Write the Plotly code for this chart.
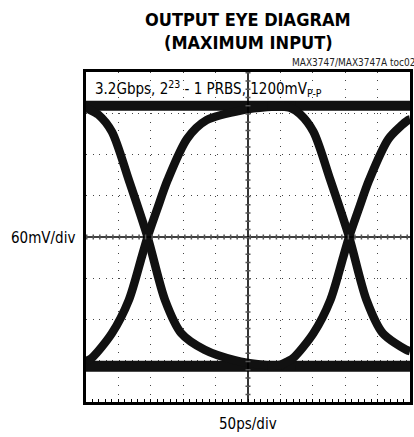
import plotly.graph_objects as go

# scope settings: 50 ps/div horizontally, 60 mV/div vertically
time_range_ps = [0, 500]
volt_range_mv = [-240, 240]

# one/zero rails of the eye
rail_t = [0, 500]
rail_high_mv = [191, 191]
rail_low_mv = [-188, -188]

# transitions (time in ps, level in mV)
fall_1_t = [0, 4, 19, 40, 66, 95, 122, 147, 183, 229, 275, 324]
fall_1_mv = [188, 186, 178, 153, 83, 0, -92, -140, -164, -179, -186, -188]

rise_1_t = [0, 10, 40, 66, 86, 95, 110, 126, 156, 186, 244, 279, 324]
rise_1_mv = [-181, -175, -140, -92, -29, 0, 41, 83, 143, 170, 185, 189, 191]

fall_2_t = [280, 299, 315, 330, 351, 377, 406, 433, 458, 494, 500]
fall_2_mv = [191, 190, 188, 179, 153, 83, 0, -92, -140, -164, -166]

rise_2_t = [280, 300, 311, 321, 351, 377, 397, 406, 421, 437, 467, 497, 500]
rise_2_mv = [-188, -186, -181, -175, -140, -92, -29, 0, 41, 83, 143, 170, 171]

NARROW = "DejaVu Sans Condensed, Liberation Sans Narrow, sans-serif"
INK = "#111111"

fig = go.Figure()

for t, v, w in [
    (rail_t, rail_high_mv, 10),
    (rail_t, rail_low_mv, 11),
]:
    fig.add_trace(go.Scatter(x=t, y=v, mode="lines",
                             line=dict(color=INK, width=w), hoverinfo="skip"))

for t, v in [
    (fall_1_t, fall_1_mv),
    (rise_1_t, rise_1_mv),
    (fall_2_t, fall_2_mv),
    (rise_2_t, rise_2_mv),
]:
    fig.add_trace(go.Scatter(x=t, y=v, mode="lines",
                             line=dict(color=INK, width=8.5, shape="spline", smoothing=0.8),
                             hoverinfo="skip"))

# centre cross-hair with minor ticks
fig.add_shape(type="line", x0=0, x1=500, y0=0, y1=0, line=dict(color="black", width=1.6))
fig.add_shape(type="line", x0=250, x1=250, y0=-240, y1=240, line=dict(color="black", width=1.6))
fig.add_shape(type="line", x0=0, x1=500, y0=0, y1=0,
              line=dict(color="#555555", width=5, dash="1.5px,5.04px"))
fig.add_shape(type="line", x0=250, x1=250, y0=240, y1=-240,
              line=dict(color="#555555", width=5, dash="1.5px,6.75px"))

fig.update_xaxes(
    range=time_range_ps, dtick=50, showgrid=True, gridcolor="#444444", gridwidth=1,
    griddash="1px,7.25px", zeroline=False, showticklabels=False,
    ticks="inside", ticklen=3, tickcolor="black",
    minor=dict(dtick=10, ticks="inside", ticklen=3, tickcolor="black", showgrid=False),
    showline=True, linecolor="black", linewidth=2.5, mirror=True,
)
fig.update_yaxes(
    range=volt_range_mv, dtick=60, showgrid=True, gridcolor="#444444", gridwidth=1,
    griddash="1px,5.54px", zeroline=False, showticklabels=False,
    showline=True, linecolor="black", linewidth=2.5, mirror=True,
)

fig.add_annotation(text="<b>OUTPUT EYE DIAGRAM</b>", xref="paper", yref="paper",
                   x=0.5015, y=1.1576, xanchor="center", yanchor="middle", showarrow=False,
                   font=dict(family=NARROW, size=18, color="black"))
fig.add_annotation(text="<b>(MAXIMUM INPUT)</b>", xref="paper", yref="paper",
                   x=0.5015, y=1.0879, xanchor="center", yanchor="middle", showarrow=False,
                   font=dict(family=NARROW, size=18, color="black"))
fig.add_annotation(text="MAX3747/MAX3747A toc02", xref="paper", yref="paper",
                   x=0.630, y=1.0288, xanchor="left", yanchor="middle", showarrow=False,
                   font=dict(family=NARROW, size=10, color="#222222"))
fig.add_annotation(text="3.2Gbps, 2<sup>23</sup> - 1 PRBS, 1200mV<sub>P-P</sub>",
                   xref="paper", yref="paper", x=0.0214, y=0.9515,
                   xanchor="left", yanchor="middle", showarrow=False,
                   font=dict(family=NARROW, size=15, color="black"))
fig.add_annotation(text="60mV/div", xref="paper", yref="paper",
                   x=-0.1315, y=0.497, xanchor="center", yanchor="middle", showarrow=False,
                   font=dict(family=NARROW, size=15, color="black"))
fig.add_annotation(text="50ps/div", xref="paper", yref="paper",
                   x=0.5015, y=-0.0667, xanchor="center", yanchor="middle", showarrow=False,
                   font=dict(family=NARROW, size=15, color="black"))

fig.update_layout(
    width=414, height=437,
    margin=dict(l=86, r=1, t=72, b=35),
    paper_bgcolor="white", plot_bgcolor="white",
    showlegend=False,
)

fig.write_html("out.html", config={"displayModeBar": False},
               post_script="document.body.style.margin='0';document.body.style.overflow='hidden';")
